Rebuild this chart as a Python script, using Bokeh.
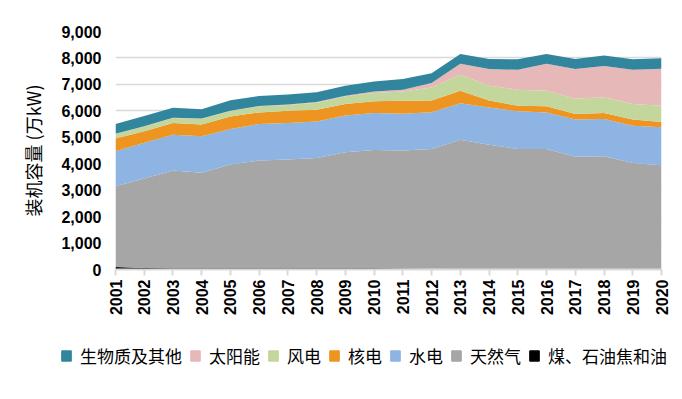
import math
from bokeh.plotting import figure
from bokeh.models import (ColumnDataSource, Range1d, FixedTicker, NumeralTickFormatter,
                          Legend, LegendItem, Title)
from bokeh.embed import file_html
from bokeh.resources import INLINE

years = list(range(2001, 2021))
coal = [90, 60, 50, 50, 50, 50, 50, 50, 50, 50, 40, 30, 10, 0, 0, 0, 0, 0, 0, 0]
gas_top = [3150, 3440, 3740, 3660, 3970, 4120, 4160, 4220, 4430, 4520,
           4500, 4560, 4910, 4720, 4560, 4560, 4260, 4280, 4030, 3940]
gas = [g - c for g, c in zip(gas_top, coal)]
hydro = [1320, 1350, 1360, 1380, 1340, 1380, 1380, 1380, 1390, 1400,
         1390, 1390, 1380, 1410, 1420, 1380, 1410, 1410, 1410, 1440]
nuclear = [480, 440, 440, 440, 480, 440, 460, 440, 440, 440,
           490, 440, 470, 260, 210, 230, 210, 230, 230, 200]
wind = [170, 180, 190, 220, 200, 230, 220, 270, 290, 310,
        350, 490, 600, 560, 610, 590, 580, 590, 590, 610]
solar = [10, 10, 10, 10, 10, 15, 15, 20, 20, 60,
         70, 170, 420, 630, 750, 1020, 1120, 1190, 1290, 1400]
biomass = [370, 380, 380, 350, 400, 380, 380, 370, 380, 380,
           400, 370, 370, 380, 400, 370, 380, 390, 400, 400]

names = ["煤、石油焦和油", "天然气", "水电", "核电", "风电", "太阳能", "生物质及其他"]
keys = ["coal", "gas", "hydro", "nuclear", "wind", "solar", "biomass"]
colors = ["#000000", "#A6A6A6", "#8DB4E2", "#EE9420", "#C3D69B", "#E6B9B8", "#31859C"]
y_ticks = [0, 1000, 2000, 3000, 4000, 5000, 6000, 7000, 8000, 9000]
y_title = "装机容量 (万kW)"

source = ColumnDataSource(dict(year=years, coal=coal, gas=gas, hydro=hydro, nuclear=nuclear,
                               wind=wind, solar=solar, biomass=biomass))

p = figure(width=674, height=330, x_range=Range1d(2001, 2020), y_range=Range1d(0, 9000),
           output_backend="svg", toolbar_location=None,
           min_border_left=115, min_border_right=13, min_border_top=31, min_border_bottom=61)
p.outline_line_color = None
p.background_fill_color = "white"

renderers = p.varea_stack(stackers=keys, x="year", color=colors, source=source)

# axes
p.xaxis.ticker = FixedTicker(ticks=years)
p.xaxis.major_label_orientation = math.pi / 2
p.xaxis.axis_line_color = "#D9D9D9"
p.xaxis.axis_line_width = 2
p.xaxis.major_tick_line_color = "#D9D9D9"
p.xaxis.major_tick_line_width = 2
p.xaxis.major_tick_out = 6
p.xaxis.major_tick_in = 0
p.xaxis.minor_tick_line_color = None
p.xaxis.major_label_standoff = 4
p.xaxis.major_label_text_font = "Liberation Sans"
p.xaxis.major_label_text_font_size = "16px"
p.xaxis.major_label_text_font_style = "bold"
p.xaxis.major_label_text_color = "black"

p.yaxis.ticker = FixedTicker(ticks=y_ticks)
p.yaxis.formatter = NumeralTickFormatter(format="0,0")
p.yaxis.axis_line_color = None
p.yaxis.major_tick_line_color = None
p.yaxis.minor_tick_line_color = None
p.yaxis.major_label_standoff = 8
p.yaxis.major_label_text_font = "Liberation Sans"
p.yaxis.major_label_text_font_size = "16px"
p.yaxis.major_label_text_font_style = "bold"
p.yaxis.major_label_text_color = "black"

# y-axis title as a side title so it can sit slightly below centre, as in the reference
p.add_layout(Title(text=y_title, align="center", offset=-26, standoff=26,
                   text_font="Noto Sans CJK SC", text_font_size="18px",
                   text_font_style="normal", text_color="black"), "left")

p.xgrid.grid_line_color = None
p.ygrid.grid_line_color = "#D9D9D9"
p.ygrid.grid_line_width = 1.5

# legend in its own strip below the chart (separate root, so its frame is not aligned)
lf = figure(width=674, height=45, x_range=Range1d(0, 1), y_range=Range1d(0, 1),
            output_backend="svg", toolbar_location=None, min_border=0,
            x_axis_location=None, y_axis_location=None)
lf.grid.visible = False
lf.outline_line_color = None
dummies = [lf.quad(left=[-3], right=[-2], bottom=[-3], top=[-2], color=c) for c in colors]
items = [LegendItem(label=n, renderers=[r]) for n, r in zip(names, dummies)][::-1]
legend = Legend(items=items, orientation="horizontal", location=(60, 7),
                label_text_font="Noto Sans CJK SC", label_text_font_size="17px",
                label_text_color="black", glyph_width=12, glyph_height=13,
                label_standoff=8, spacing=7, padding=0, margin=0,
                border_line_color=None, background_fill_alpha=0)
lf.add_layout(legend, "center")

open("out.html", "w").write(file_html([p, lf], INLINE))
